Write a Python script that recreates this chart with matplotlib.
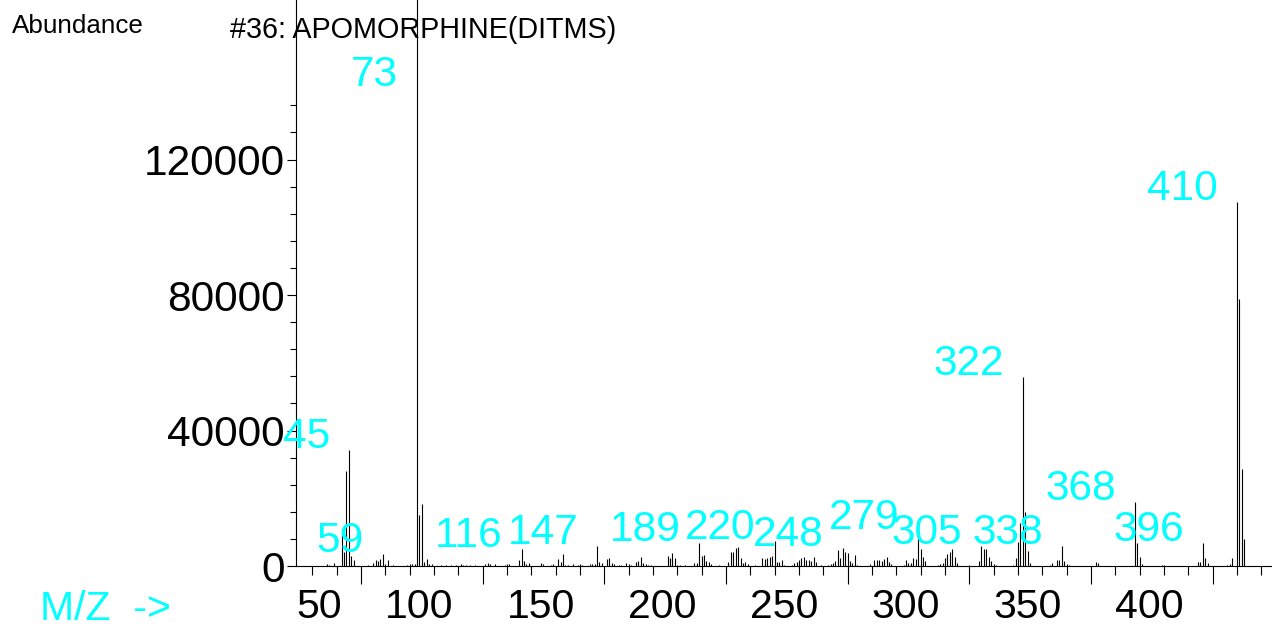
import numpy as np
import matplotlib
matplotlib.use("Agg")
import matplotlib.pyplot as plt

# ---------------- data ----------------
title = "#36: APOMORPHINE(DITMS)"

mz = [36, 37, 39, 42, 43, 44, 45, 46, 47, 53, 55, 56, 57, 58, 59, 60, 61, 63,
      69, 70, 71, 72, 73, 74, 75, 76, 77, 78, 79, 83, 85, 87, 89, 91, 92, 93,
      95, 97, 101, 102, 103, 105, 109, 110, 111, 115, 116, 117, 118, 119, 124,
      125, 128, 129, 131, 132, 133, 134, 135, 137, 139, 140, 141, 144, 145, 146,
      147, 148, 149, 151, 152, 153, 154, 156, 157, 159, 160, 161, 163, 164, 165,
      166, 167, 168, 169, 176, 177, 178, 179, 180, 181, 183, 187, 188, 189, 190,
      191, 192, 193, 194, 197, 201, 202, 203, 204, 205, 206, 207, 208, 209, 212,
      215, 216, 217, 218, 219, 220, 221, 222, 223, 224, 227, 228, 229, 230, 231,
      232, 233, 234, 235, 236, 237, 239, 242, 243, 244, 245, 246, 247, 248, 249,
      250, 251, 252, 253, 254, 259, 261, 262, 263, 264, 265, 266, 267, 268, 273,
      274, 275, 276, 277, 278, 279, 280, 281, 282, 287, 288, 289, 290, 291, 292,
      293, 294, 295, 300, 304, 305, 306, 307, 308, 309, 310, 311, 318, 319, 320,
      321, 322, 323, 324, 325, 333, 334, 336, 337, 338, 339, 340, 341, 352, 353,
      368, 369, 370, 371, 379, 380, 394, 395, 396, 397, 398, 406, 407, 408, 410,
      411, 412, 413]

abundance = [500, 400, 900, 9700, 4000, 28100, 34300, 3000, 1800, 200, 1000, 1800,
             1500, 2200, 3400, 500, 1800, 200,
             400, 700, 700, 600, 175000, 15100, 18200, 1300, 2000, 600, 600, 300,
             300, 200, 300, 500, 300, 200,
             300, 200, 600, 900, 500, 600, 300, 500, 600, 1700, 4900, 1500, 500,
             900, 800,
             500, 300, 500, 2000, 1200, 3400, 400, 300, 500, 400, 600, 400, 700,
             700, 600,
             5800, 1200, 900, 2000, 2300, 1000, 500, 400, 400, 900, 700, 400, 1300,
             1500, 2700,
             1000, 500, 400, 400, 3000, 2300, 3700, 2500, 400, 300, 200, 1000, 1000,
             6900, 3000,
             3300, 1500, 1100, 500, 200, 1200, 4200, 4100, 5200, 5600, 2300, 1000,
             1200, 700, 200,
             2500, 2000, 2300, 2600, 2900, 7400, 1100, 1100, 1800, 400, 300, 1000,
             1300, 1800, 2300,
             2800, 1800, 1800, 1500, 2800, 1200, 300, 200, 500, 1000, 1500, 4800,
             2500, 5300, 4100,
             3900, 1500, 1000, 3200, 200, 700, 1800, 1800, 1800, 1500, 2200, 2800,
             1300, 700, 300,
             1700, 800, 800, 2300, 2000, 10300, 5000, 2700, 1500, 300, 500, 1000,
             2300, 3600, 4100,
             4900, 2700, 1000, 200, 1500, 5900, 4900, 4900, 2800, 1500, 500, 300,
             300, 2300, 7000,
             12700, 55900, 16000, 4500, 1000, 300, 1000, 1700, 1700, 6000, 1500,
             600, 300, 1200, 900,
             19000, 6700, 2700, 600, 400, 300, 1300, 1100, 6900, 2300, 1000, 400,
             600, 2300, 107600,
             78900, 28700, 8000]

labeled_mz = [45, 59, 73, 116, 147, 189, 220, 248, 279, 305, 322, 338, 368, 396, 410]
x_ticks = [50, 100, 150, 200, 250, 300, 350, 400]
y_ticks = [0, 40000, 80000, 120000]
y_tick_labels = ["0", "40000", "80000", "120000"]

# ---------------- style ----------------
plt.rcParams['font.family'] = ['Liberation Sans', 'DejaVu Sans']
CYAN = '#00FFFF'
W, H = 1272, 628
FS_Y = 30.5
FS_X = 29.5
FS_PEAK = 30.5

fig = plt.figure(figsize=(W / 100, H / 100), dpi=100)
ax = fig.add_axes([296 / W, (H - 566) / H, 1 - 296 / W, 566 / H])
ax.set_xlim(23.3, 424.4)
ax.set_ylim(0, 167100)

ax.vlines(mz, 0, abundance, color='black', linewidth=0.8)

for s in ('top', 'right'):
    ax.spines[s].set_visible(False)
for s in ('left', 'bottom'):
    ax.spines[s].set_linewidth(0.8)
    ax.spines[s].set_color('black')

# x ticks: long every 50, short every 10
ax.set_xticks(x_ticks)
ax.set_xticks(np.arange(30, 421, 10), minor=True)
ax.tick_params(axis='x', which='major', length=13, width=0.8, direction='out',
               labelbottom=False)
ax.tick_params(axis='x', which='minor', length=6.5, width=0.8, direction='out')

# y ticks
ax.set_yticks(y_ticks)
ax.set_yticklabels(y_tick_labels)
ax.set_yticks(np.arange(0, 136001, 8000), minor=True)
ax.tick_params(axis='y', which='major', length=6.5, width=0.8, direction='out',
               labelsize=FS_Y, pad=1.5)
ax.tick_params(axis='y', which='minor', length=4.2, width=0.8, direction='out')

# x tick labels (drawn shifted left of their ticks, as in the reference)
for i, t in enumerate(x_ticks):
    if i == 0:
        ax.annotate(str(t), xy=(0, 0), xycoords='axes fraction',
                    xytext=(0, -52), textcoords='offset pixels',
                    ha='left', va='baseline', fontsize=FS_X, annotation_clip=False)
    else:
        ax.annotate(str(t), xy=(t, 0), xycoords=('data', 'axes fraction'),
                    xytext=(-29, -52), textcoords='offset pixels',
                    ha='right', va='baseline', fontsize=FS_X, annotation_clip=False)

# peak labels
label_cap = 141000
for m in labeled_mz:
    h = abundance[mz.index(m)]
    ax.annotate(str(m), xy=(m, min(h, label_cap)), xytext=(-19, 2),
                textcoords='offset pixels', ha='right', va='baseline',
                color=CYAN, fontsize=FS_PEAK, annotation_clip=False)

fig.text(12 / W, 1 - 33 / H, "Abundance", fontsize=18.7, va='baseline', ha='left')
fig.text(230 / W, 1 - 38 / H, title, fontsize=20.7, va='baseline', ha='left')
fig.text(40 / W, 1 - 620 / H, "M/Z  ->", fontsize=FS_X, va='baseline', ha='left',
         color=CYAN)

fig.savefig("out.png", dpi=100)
